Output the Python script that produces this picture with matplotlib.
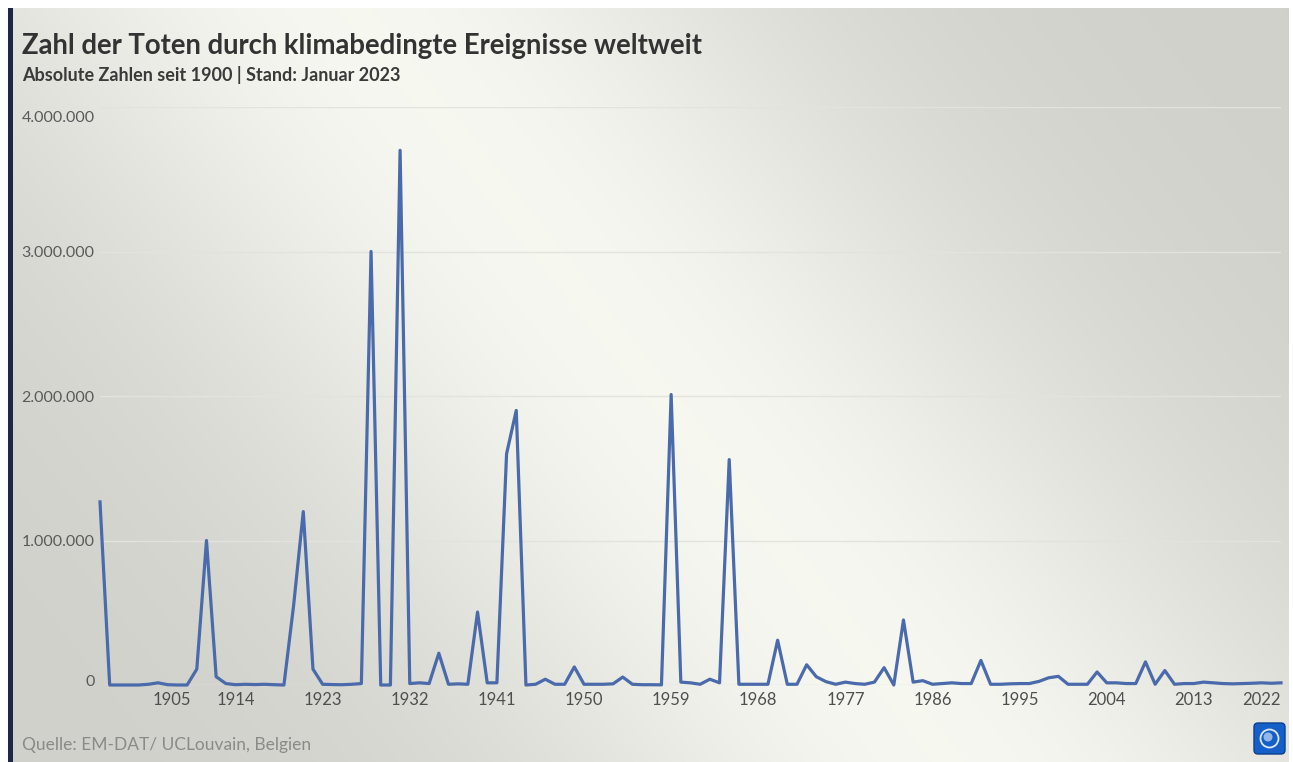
import numpy as np
import matplotlib

matplotlib.use("Agg")
import matplotlib.pyplot as plt  # noqa: E402
import matplotlib.transforms as mtransforms  # noqa: E402
from matplotlib.patches import FancyBboxPatch, Rectangle, Circle  # noqa: E402
from matplotlib.ticker import FuncFormatter  # noqa: E402

# --- data ---
years = np.arange(1900, 2023)
deaths = [
    # 1900-1909
    1267000, 0, 0, 0, 0, 5000, 15000, 2000, 0, 0,
    # 1910-1919
    110000, 1000000, 57000, 10000, 2000, 5000, 3000, 5000, 2000, 0,
    # 1920-1929
    550000, 1200000, 110000, 5000, 3000, 2000, 5000, 10000, 3000000, 0,
    # 1930-1939
    0, 3700000, 10000, 15000, 10000, 220000, 5000, 8000, 5000, 505000,
    # 1940-1949
    15000, 15000, 1600000, 1900000, 0, 5000, 40000, 5000, 5000, 125000,
    # 1950-1959
    5000, 5000, 5000, 8000, 55000, 5000, 2000, 2000, 1000, 2010000,
    # 1960-1969
    20000, 15000, 5000, 40000, 15000, 1560000, 5000, 5000, 5000, 5000,
    # 1970-1979
    310000, 5000, 5000, 140000, 57000, 23000, 5000, 20000, 10000, 5000,
    # 1980-1989
    20000, 120000, 0, 450000, 20000, 30000, 5000, 10000, 15000, 10000,
    # 1990-1999
    10000, 170000, 5000, 5000, 8000, 10000, 10000, 25000, 50000, 60000,
    # 2000-2009
    5000, 5000, 5000, 90000, 15000, 15000, 10000, 10000, 160000, 5000,
    # 2010-2019
    100000, 5000, 10000, 10000, 20000, 15000, 10000, 8000, 10000, 12000,
    # 2020-2022
    15000, 12000, 15000,
]
x_ticks = [1905, 1914, 1923, 1932, 1941, 1950, 1959, 1968, 1977, 1986, 1995, 2004, 2013, 2022]
y_ticks = [0, 1000000, 2000000, 3000000, 4000000]

title = "Zahl der Toten durch klimabedingte Ereignisse weltweit"
subtitle = "Absolute Zahlen seit 1900 | Stand: Januar 2023"
source = "Quelle: EM-DAT/ UCLouvain, Belgien"

W, H = 1293, 762
FONT = "Lato"
LINE_COLOR = "#4a6aab"

fig = plt.figure(figsize=(W / 100, H / 100), dpi=100)
fig.patch.set_facecolor("white")


def fx(px):
    return px / W


def fy(py):
    return 1 - py / H


# background with a diagonal light streak
bg = fig.add_axes([0, 0, 1, 1], zorder=0)
bg.set_xlim(0, W)
bg.set_ylim(H, 0)
bg.axis("off")
xx, yy = np.meshgrid(np.linspace(0, W, 420), np.linspace(0, H, 250))
d = ((xx - 350) * 762 - yy * 600) / np.hypot(762, 600)
light = 0.815 + 0.15 * np.exp(-(d / 340) ** 2)
rgb = np.dstack([light, light * 1.004, light * 0.975]).clip(0, 1)
bg.imshow(rgb, extent=[8, W - 4, H, 8], aspect="auto", interpolation="bilinear")
bg.add_patch(Rectangle((8, 8), 5, H - 8, color="#1d2847", lw=0))

# logo
bg.add_patch(FancyBboxPatch((1254, 723), 31, 31, boxstyle="round,pad=0,rounding_size=4",
                            fc="#1560c8", ec="#0b3f8f", lw=1))
bg.add_patch(Circle((1269.5, 738.5), 9, fc="none", ec="white", lw=1.3, alpha=0.85))
bg.add_patch(Circle((1268, 737), 4.5, fc="white", ec="none", alpha=0.55))

# main chart
ax = fig.add_axes([fx(100), fy(685), fx(1181), (685 - 107) / H], zorder=2)
ax.patch.set_alpha(0)
ax.plot(years, deaths, color=LINE_COLOR, lw=2.3, clip_on=False, zorder=4)
base = ax.axhline(0, color="#9b9b96", lw=2.2, zorder=3)
base.set_transform(base.get_transform() + mtransforms.ScaledTranslation(0, -0.03, fig.dpi_scale_trans))
ax.set_xlim(1900, 2022)
ax.set_ylim(0, 4000000)
ax.set_yticks(y_ticks)
ax.set_xticks(x_ticks)
ax.grid(axis="y", color="#e3e3de", lw=1.0, zorder=1)
ax.set_axisbelow(True)
for s in ax.spines.values():
    s.set_visible(False)
ax.yaxis.set_major_formatter(FuncFormatter(lambda v, _: f"{int(v):,}".replace(",", ".")))
ax.tick_params(length=0)
ax.tick_params(axis="y", pad=4, labelsize=11.5, labelcolor="#5a5a5a")
ax.tick_params(axis="x", pad=5, labelsize=12, labelcolor="#4f4f4f")
for lab in ax.get_yticklabels() + ax.get_xticklabels():
    lab.set_fontfamily(FONT)

# small nudges the original layout applies to edge labels
xl = ax.get_xticklabels()
xl[0].set_transform(xl[0].get_transform() + mtransforms.ScaledTranslation(0.23, 0, fig.dpi_scale_trans))
xl[-1].set_horizontalalignment("right")
yl = ax.get_yticklabels()
yl[-1].set_transform(yl[-1].get_transform() + mtransforms.ScaledTranslation(0, -0.10, fig.dpi_scale_trans))
yl[0].set_transform(yl[0].get_transform() + mtransforms.ScaledTranslation(0, 0.05, fig.dpi_scale_trans))

# texts
fig.text(fx(22), fy(54), title, fontsize=19.8, fontweight="bold", color="#333333",
         family=FONT, va="baseline")
fig.text(fx(22), fy(81), subtitle, fontsize=13, fontweight="bold", color="#3a3a3a",
         family=FONT, va="baseline")
fig.text(fx(22), fy(750), source, fontsize=12.5, color="#8a8a88", family=FONT, va="baseline")

fig.savefig("out.png", dpi=100)
